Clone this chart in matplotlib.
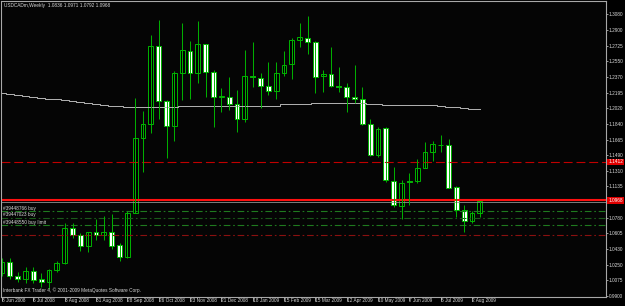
import matplotlib
matplotlib.use("Agg")
import matplotlib.pyplot as plt
import matplotlib.transforms as mtransforms
import numpy as np

plt.rcParams["font.family"] = ["Liberation Sans", "DejaVu Sans"]

# weekly USDCAD candles, first bar = week of 8 Jun 2008
opens = [1.0160, 1.0285, 1.0127, 1.0086, 1.0176, 1.0086, 1.0052, 1.0188, 1.0270, 1.0662,
         1.0583, 1.0459, 1.0617, 1.0583, 1.0617, 1.0470, 1.0338, 1.0838, 1.1679, 1.1837,
         1.2719, 1.2097, 1.1822, 1.2414, 1.2669, 1.2414, 1.2741, 1.2432, 1.2143, 1.2143,
         1.2063, 1.1897, 1.2380, 1.2364, 1.2274, 1.2217, 1.2421, 1.2515, 1.2793, 1.2816,
         1.2764, 1.2380, 1.2402, 1.2270, 1.2262, 1.2146, 1.2123, 1.1837, 1.1494, 1.1792,
         1.1200, 1.0911, 1.1193, 1.1193, 1.1340, 1.1528, 1.1604, 1.1600, 1.1126, 1.0869,
         1.0745, 1.0836]
highs = [1.0327, 1.0323, 1.0165, 1.0222, 1.0222, 1.0157, 1.0202, 1.0296, 1.0719, 1.0719,
         1.0609, 1.0624, 1.0771, 1.0801, 1.0820, 1.0496, 1.0858, 1.2131, 1.1988, 1.2847,
         1.3016, 1.2112, 1.2440, 1.2986, 1.2779, 1.3008, 1.2750, 1.2451, 1.2251, 1.2369,
         1.2225, 1.2677, 1.2764, 1.2414, 1.2538, 1.2545, 1.2669, 1.2813, 1.2979, 1.3061,
         1.2779, 1.2448, 1.2714, 1.2482, 1.2301, 1.2508, 1.2256, 1.1894, 1.1804, 1.1810,
         1.1358, 1.1205, 1.1284, 1.1442, 1.1641, 1.1652, 1.1717, 1.1671, 1.1140, 1.0926,
         1.0858, 1.0971]
lows = [1.0123, 1.0086, 1.0055, 1.0041, 1.0048, 1.0002, 0.9980, 1.0165, 1.0259, 1.0556,
        1.0406, 1.0398, 1.0530, 1.0530, 1.0428, 1.0293, 1.0327, 1.0832, 1.1302, 1.1736,
        1.1894, 1.1457, 1.1649, 1.2112, 1.2123, 1.2301, 1.2149, 1.1810, 1.1980, 1.1999,
        1.1747, 1.1867, 1.2262, 1.2025, 1.2169, 1.2123, 1.2387, 1.2346, 1.2708, 1.2628,
        1.2188, 1.2199, 1.2256, 1.2206, 1.1980, 1.2075, 1.1833, 1.1479, 1.1471, 1.1182,
        1.0900, 1.0767, 1.0926, 1.1174, 1.1340, 1.1426, 1.1528, 1.1118, 1.0793, 1.0617,
        1.0719, 1.0792]
closes = [1.0278, 1.0123, 1.0086, 1.0176, 1.0075, 1.0059, 1.0188, 1.0270, 1.0662, 1.0583,
          1.0459, 1.0617, 1.0583, 1.0617, 1.0462, 1.0338, 1.0838, 1.1679, 1.1837, 1.2719,
          1.2097, 1.1822, 1.2414, 1.2674, 1.2414, 1.2745, 1.2425, 1.2149, 1.2154, 1.2067,
          1.1897, 1.2380, 1.2369, 1.2274, 1.2217, 1.2414, 1.2508, 1.2790, 1.2824, 1.2764,
          1.2375, 1.2402, 1.2270, 1.2264, 1.2146, 1.2127, 1.1841, 1.1494, 1.1781, 1.1208,
          1.0922, 1.1174, 1.1185, 1.1347, 1.1524, 1.1611, 1.1600, 1.1121, 1.0866, 1.0745,
          1.0832, 1.0968]
# moving average (grey line)
ma = [1.2188, 1.2178, 1.2167, 1.2157, 1.2147, 1.2137, 1.2128, 1.2118, 1.2108, 1.2097,
      1.2087, 1.2077, 1.2067, 1.2057, 1.2046, 1.2041, 1.2030, 1.2030, 1.2030, 1.2030,
      1.2030, 1.2030, 1.2030, 1.2044, 1.2044, 1.2048, 1.2048, 1.2048, 1.2048, 1.2048,
      1.2048, 1.2048, 1.2048, 1.2048, 1.2048, 1.2048, 1.2063, 1.2063, 1.2063, 1.2067,
      1.2075, 1.2075, 1.2075, 1.2075, 1.2075, 1.2075, 1.2075, 1.2063, 1.2063, 1.2056,
      1.2056, 1.2056, 1.2052, 1.2052, 1.2052, 1.2052, 1.2041, 1.2030, 1.2030, 1.2018,
      1.2007, 1.2007]

date_labels = ["8 Jun 2008", "6 Jul 2008", "3 Aug 2008", "31 Aug 2008", "28 Sep 2008",
               "26 Oct 2008", "23 Nov 2008", "21 Dec 2008", "18 Jan 2009", "15 Feb 2009",
               "15 Mar 2009", "12 Apr 2009", "10 May 2009", "7 Jun 2009", "5 Jul 2009",
               "2 Aug 2009"]
price_ticks = [1.3080, 1.2900, 1.2725, 1.2550, 1.2370, 1.2195, 1.2020, 1.1840, 1.1665,
               1.1490, 1.1310, 1.1135, 1.0780, 1.0605, 1.0430, 1.0250, 1.0075, 0.9900]

red_dash_level = 1.1412
red_line_level = 1.0978
bid_level = 1.0956
order_levels = [1.0854, 1.0779, 1.0696]
order_names = ["#39448766 buy", "#39447023 buy", "#39448550 buy limit"]
stop_level = 1.0583

title = "USDCADm,Weekly  1.0836 1.0971 1.0792 1.0968"
copyright = "Interbank FX Trader 4, \u00a9 2001-2009 MetaQuotes Software Corp."

fs = 3.4
green = "#00b400"
txt = "#d8d8d8"

fig = plt.figure(figsize=(6.25, 3.06), dpi=100, facecolor="black")
ax = fig.add_axes([1 / 625, 9 / 306, 605 / 625, 296 / 306], facecolor="#050505")

x = np.arange(len(opens))
o = np.array(opens)
c = np.array(closes)

# horizontal objects
ax.axhline(red_dash_level, color="#c00000", lw=0.8, dashes=(8, 3.5))
ax.axhline(red_line_level, color="#ff1010", lw=1.5)
ax.axhline(bid_level, color="#909090", lw=0.6)
for lvl, col in zip(order_levels, ["#1f7a1f", "#1a5a1a", "#1f7a1f"]):
    ax.axhline(lvl, color=col, lw=0.8, dashes=(6, 2.5, 1.5, 2.5))
ax.axhline(stop_level, color="#8a1010", lw=0.8, dashes=(6, 2.5, 1.5, 2.5))

# moving average
ax.step(x, ma, where="mid", color="#b4b4b4", lw=0.7)

# candles
ax.vlines(x, lows, highs, color=green, lw=0.7)
body_col = np.where(c >= o, "black", "white")
height = np.abs(c - o)
height = np.where(height < 0.0004, 0.0004, height)
ax.bar(x, height, bottom=np.minimum(o, c), width=0.62, color=body_col,
       edgecolor=green, linewidth=0.7)

ax.set_xlim(-0.13, 77.1)
ax.set_ylim(0.9886, 1.3231)

for s in ax.spines.values():
    s.set_color("#a8a8a8")
    s.set_linewidth(0.8)

ax.yaxis.tick_right()
ax.set_yticks(price_ticks)
ax.set_yticklabels([f"{p:.4f}" for p in price_ticks])
ax.tick_params(axis="y", colors=txt, labelsize=fs, length=1.5, width=0.5, pad=0.6)
ax.set_xticks(x[::4][:len(date_labels)])
ax.set_xticklabels(date_labels)
for lab in ax.get_xticklabels():
    lab.set_horizontalalignment("left")
ax.tick_params(axis="x", colors=txt, labelsize=fs, length=3, width=0.5, pad=-2.6)

# price labels on the right axis
tr = mtransforms.blended_transform_factory(ax.transAxes, ax.transData)
for lvl, lab in [(red_dash_level, "1.1412"), (red_line_level, "1.0968")]:
    ax.text(1.004, lvl, lab, transform=tr, color="white", fontsize=fs,
            va="center", ha="left", clip_on=False,
            bbox=dict(boxstyle="square,pad=0.2", fc="#e00000", ec="none"))

# order labels
for lvl, name in zip(order_levels, order_names):
    ax.text(0.004, lvl + 0.0007, name, transform=tr, color=txt, fontsize=fs, va="bottom")

ax.text(0.004, 0.012, copyright, transform=ax.transAxes, color=txt, fontsize=fs, va="bottom")
fig.text(4 / 625, 1 - 5 / 306, title, color=txt, fontsize=fs, va="center")

fig.savefig("out.png", dpi=100, facecolor="black")
